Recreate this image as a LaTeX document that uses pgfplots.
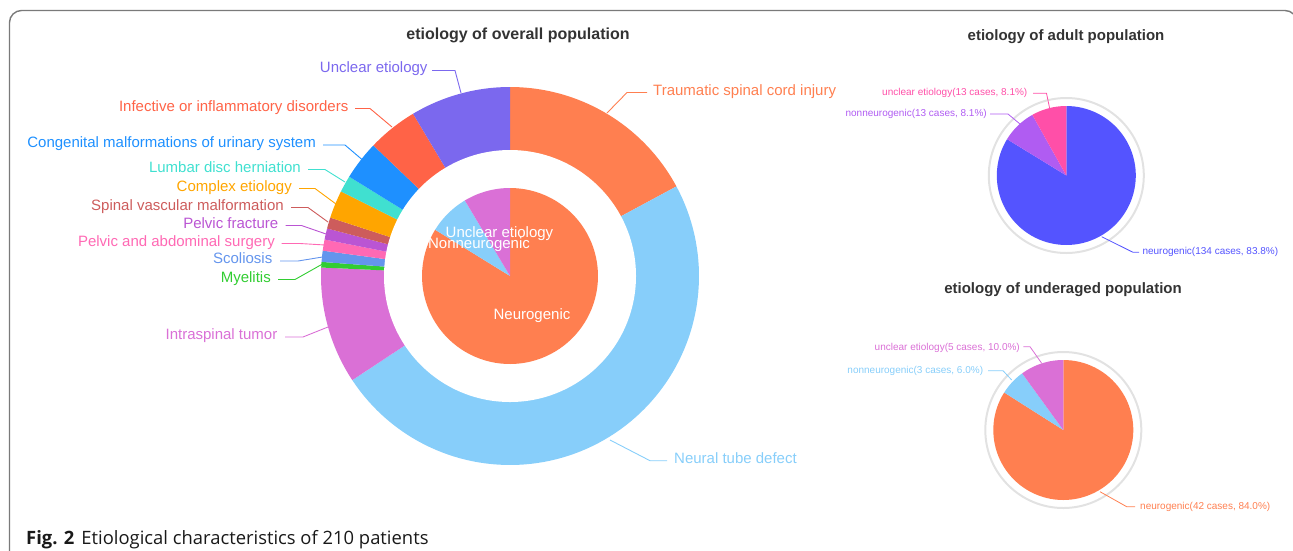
\documentclass[border=0pt]{standalone}
\usepackage{pgfplots}
\pgfplotsset{compat=1.18}
\usepackage{fontspec}
\setmainfont{Liberation Sans}
\newfontfamily\capfont{Open Sans}
\definecolor{cA}{HTML}{FF7F50}
\definecolor{cB}{HTML}{87CEFA}
\definecolor{cC}{HTML}{DA70D6}
\definecolor{cD}{HTML}{32CD32}
\definecolor{cE}{HTML}{6495ED}
\definecolor{cF}{HTML}{FF69B4}
\definecolor{cG}{HTML}{BA55D3}
\definecolor{cH}{HTML}{CD5C5C}
\definecolor{cI}{HTML}{FFA500}
\definecolor{cJ}{HTML}{40E0D0}
\definecolor{cK}{HTML}{1E90FF}
\definecolor{cL}{HTML}{FF6347}
\definecolor{cM}{HTML}{7B68EE}
\definecolor{adN}{HTML}{5454FF}
\definecolor{adM}{HTML}{B05CF2}
\definecolor{adP}{HTML}{FF4FA8}
\definecolor{ttl}{HTML}{333333}
\definecolor{ringgray}{HTML}{E2E2E2}
\definecolor{frame}{HTML}{7A7A7A}
\newcommand\fs[1]{\fontsize{#1}{#1}\selectfont}
% pie: cx, cy, r, total, list count/colour (clockwise from 12 o'clock)
\newcommand\pie[5]{%
  \gdef\wcum{0}%
  \foreach \wv/\wc in {#5}{%
    \pgfmathsetmacro\wA{\wcum/#4*360}%
    \pgfmathsetmacro\wnew{\wcum+\wv}%
    \pgfmathsetmacro\wB{\wnew/#4*360}%
    \xdef\wcum{\wnew}%
    \edef\wtmp{\noexpand\addplot[fill=\wc,draw=none,domain=\wA:\wB,samples=90,variable=\noexpand\t]
      ({#1+#3*sin(\noexpand\t)},{#2-#3*cos(\noexpand\t)}) -- (#1,#2) -- cycle;}%
    \wtmp
  }%
}
\newcommand\lab[7]{% colour, anchor, x, y, text, line coords
  \node[anchor=#2,inner sep=0pt,text=#1,font=\fs{15}] at (#3,#4) {#5};
  \draw[#1,line width=0.9pt] #6;
}
\begin{document}
\begin{tikzpicture}
\useasboundingbox (0,0) rectangle (1293pt,550pt);
\begin{axis}[at={(0pt,0pt)},anchor=south west,scale only axis,width=1293pt,height=550pt,
  xmin=0,xmax=1293,ymin=0,ymax=550,y dir=reverse,hide axis,clip=false]
% frame
\draw[frame,line width=1.4pt,rounded corners=12pt] (9.5,562) -- (9.5,10.5) -- (1297,10.5) -- (1297,40);
% overall: outer ring
\pie{510}{276}{189}{210}{36/cA,102/cB,21/cC,1/cD,2/cE,2/cF,2/cG,2/cH,5/cI,3/cJ,7/cK,9/cL,18/cM}
\fill[white] (510,276) circle[radius=126pt];
% overall: inner pie
\pie{510}{276}{88}{210}{176/cA,16/cB,18/cC}
\node[text=white,font=\fs{15}] at (499.5,233.5) {Unclear etiology};
\node[text=white,font=\fs{15}] at (479,244.5) {Nonneurogenic};
\node[text=white,font=\fs{15}] at (532,316) {Neurogenic};
\node[text=ttl,font=\fs{16}\bfseries] at (518,35) {etiology of overall population};
% outer labels
\lab{cM}{mid east}{427.7}{70}{Unclear etiology}{(432,70.5) -- (455,70.5) -- (461,93)}{}
\lab{cA}{mid west}{653}{92.5}{Traumatic spinal cord injury}{(607,113) -- (627,92.5) -- (647,92.5)}{}
\lab{cL}{mid east}{348.5}{108.5}{Infective or inflammatory disorders}{(355,108.5) -- (370,108.5) -- (392,127)}{}
\lab{cK}{mid east}{316}{145}{Congenital malformations of urinary system}{(323,145) -- (345,145) -- (362,159.5)}{}
\lab{cJ}{mid east}{301}{169.5}{Lumbar disc herniation}{(308,169.5) -- (325,169.5) -- (345,182)}{}
\lab{cI}{mid east}{292}{188.5}{Complex etiology}{(299,188.5) -- (315,188.5) -- (336,204)}{}
\lab{cH}{mid east}{284}{207.5}{Spinal vascular malformation}{(291,207.5) -- (308,207.5) -- (328,222)}{}
\lab{cG}{mid east}{278.5}{225.5}{Pelvic fracture}{(285.5,225.5) -- (301.5,225.5) -- (326,234)}{}
\lab{cF}{mid east}{275}{243.5}{Pelvic and abdominal surgery}{(281.5,243.5) -- (300,243.5) -- (325,245)}{}
\lab{cE}{mid east}{272.5}{261}{Scoliosis}{(280,261) -- (298,261) -- (322.5,257)}{}
\lab{cD}{mid east}{271}{279.5}{Myelitis}{(278,279.5) -- (295,279.5) -- (322.5,264)}{}
\lab{cC}{mid east}{277.5}{337}{Intraspinal tumor}{(285,337) -- (303,337) -- (328,327)}{}
\lab{cB}{mid west}{674}{460.7}{Neural tube defect}{(610,440) -- (650,460.7) -- (667,460.7)}{}
% adult
\node[text=ttl,font=\fs{15}\bfseries] at (1066,36.5) {etiology of adult population};
\draw[ringgray,line width=2pt] (1066.3,175.5) circle[radius=77.5pt];
\pie{1066.3}{175.5}{69.5}{160}{134/adN,13/adM,13/adP}
\node[anchor=mid east,inner sep=0pt,text=adP,font=\fs{10}] at (1027.5,93.3) {unclear etiology(13 cases, 8.1\%)};
\draw[adP,line width=0.8pt] (1033,93.3) -- (1046.5,93.3) -- (1050,110);
\node[anchor=mid east,inner sep=0pt,text=adM,font=\fs{10}] at (987,114) {nonneurogenic(13 cases, 8.1\%)};
\draw[adM,line width=0.8pt] (990,114) -- (1008,114) -- (1020,124);
\node[anchor=mid west,inner sep=0pt,text=adN,font=\fs{10}] at (1142.3,252.3) {neurogenic(134 cases, 83.8\%)};
\draw[adN,line width=0.8pt] (1101.7,236.7) -- (1133,252.3) -- (1139,252.3);
% underaged
\node[text=ttl,font=\fs{15}\bfseries] at (1063,290) {etiology of underaged population};
\draw[ringgray,line width=2pt] (1063.3,430) circle[radius=78pt];
\pie{1063.3}{430}{70}{50}{42/cA,3/cB,5/cC}
\node[anchor=mid east,inner sep=0pt,text=cC,font=\fs{10}] at (1020,348.3) {unclear etiology(5 cases, 10.0\%)};
\draw[cC,line width=0.8pt] (1023.3,346.7) -- (1030,346.7) -- (1041.7,363.3);
\node[anchor=mid east,inner sep=0pt,text=cB,font=\fs{10}] at (983.3,370.7) {nonneurogenic(3 cases, 6.0\%)};
\draw[cB,line width=0.8pt] (988,370.7) -- (1003,370.7) -- (1011.7,380);
\node[anchor=mid west,inner sep=0pt,text=cA,font=\fs{10}] at (1140,506.7) {neurogenic(42 cases, 84.0\%)};
\draw[cA,line width=0.8pt] (1100,491.7) -- (1126.7,506.7) -- (1135,506.7);
% caption
\node[anchor=base west,inner sep=0pt,text=black!90,font=\capfont\fs{18.4}] at (26,544) {\textbf{Fig. 2}\hspace{7pt}Etiological characteristics of 210 patients};
\end{axis}
\end{tikzpicture}
\end{document}
